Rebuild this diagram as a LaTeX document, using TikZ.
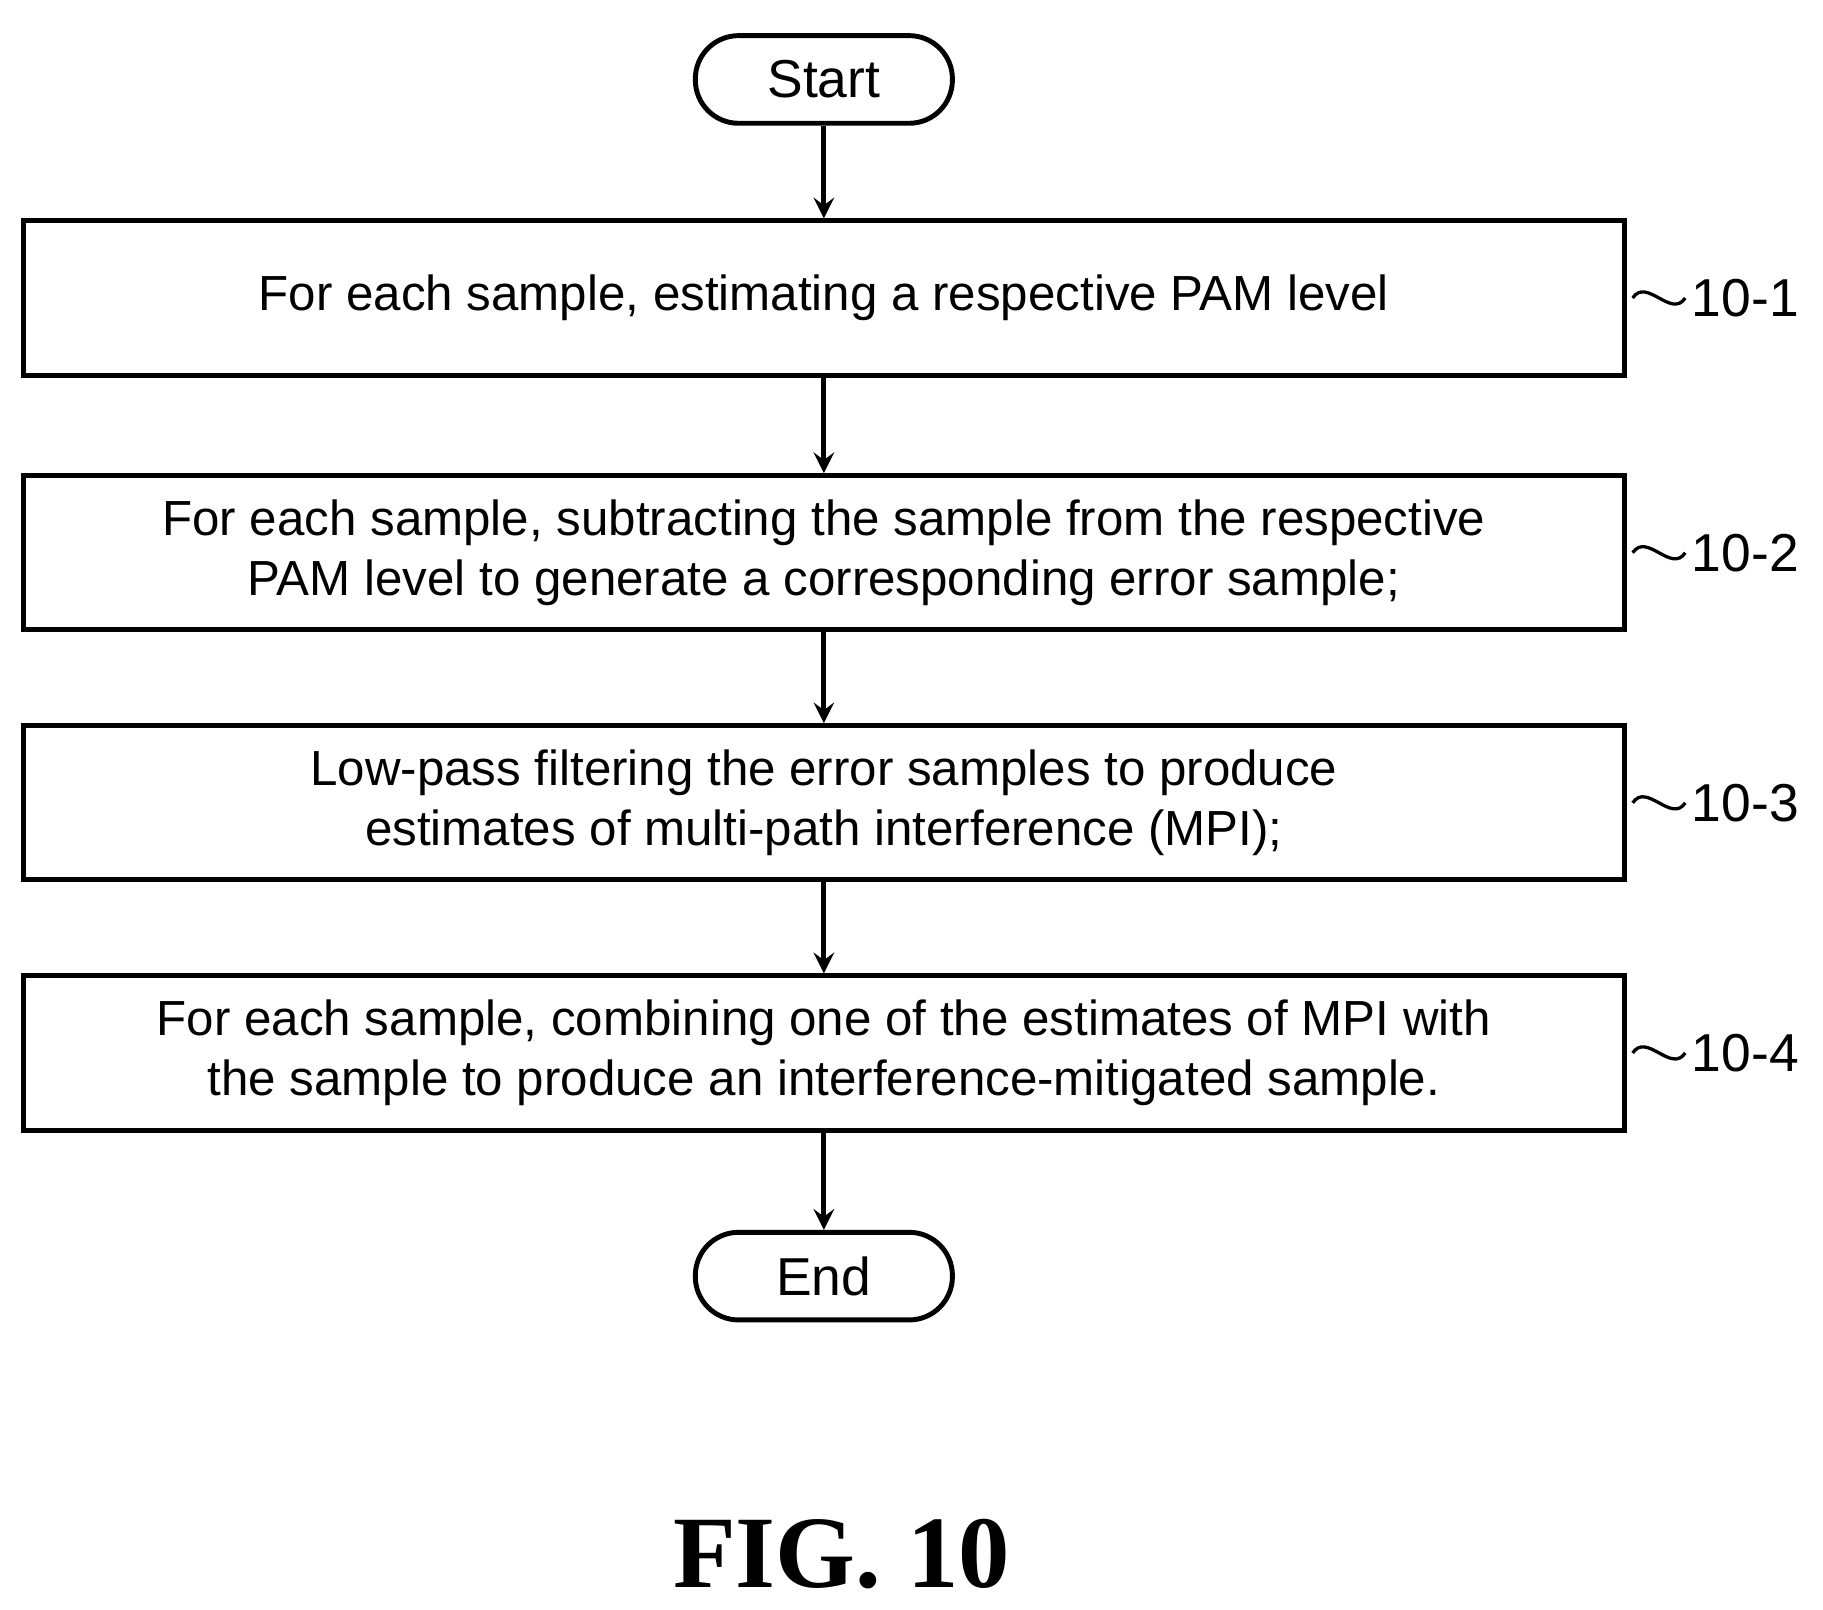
\documentclass[tikz,border=0pt]{standalone}
\usepackage{fontspec}
\setmainfont{Liberation Sans}
\newfontfamily\figfont{Liberation Serif}
\usetikzlibrary{positioning}
\tikzset{
  stage/.style={draw, line width=1.2pt, minimum width=13.7cm, minimum height=1.32cm, align=center, inner sep=0pt,
    font=\fontsize{12}{14.5}\selectfont},
  term/.style={draw, line width=1.2pt, rounded corners=0.37cm, minimum width=2.2cm, minimum height=0.75cm,
    font=\fontsize{13}{15}\selectfont},
  tag/.style={font=\fontsize{13}{15}\selectfont, anchor=west, inner sep=0pt},
  flow/.style={-stealth, line width=1.2pt},
}
\begin{document}
\begin{tikzpicture}
\useasboundingbox (0,0) rectangle (15.6,-13.77);
\path node[term] (S) at (7.05,-0.68) {Start}
      node[stage] (B1) at (7.05,-2.55) {For each sample, estimating a respective PAM level}
      node[stage] (B2) at (7.05,-4.73) {For each sample, subtracting the sample from the respective\\PAM level to generate a corresponding error sample;}
      node[stage] (B3) at (7.05,-6.87) {Low-pass filtering the error samples to produce\\estimates of multi-path interference (MPI);}
      node[stage] (B4) at (7.05,-9.01) {For each sample, combining one of the estimates of MPI with\\the sample to produce an interference-mitigated sample.}
      node[term] (E) at (7.05,-10.92) {End};
\foreach \i in {1,...,4}
  \node[tag] (L\i) at ([xshift=0.55cm]B\i.east) {10-\i};
\draw[flow] (S) -- (B1);
\draw[flow] (B1) -- (B2);
\draw[flow] (B2) -- (B3);
\draw[flow] (B3) -- (B4);
\draw[flow] (B4) -- (E);
\foreach \i in {1,...,4}
  \draw[line width=0.8pt] ([xshift=0.05cm]B\i.east) .. controls +(0.12,0.18) and +(-0.12,-0.18) .. ([xshift=-0.05cm]L\i.west);
\node[font=\figfont\bfseries\fontsize{25}{29}\selectfont] (F) at (7.2,-13.3) {FIG. 10};
\end{tikzpicture}
\end{document}
